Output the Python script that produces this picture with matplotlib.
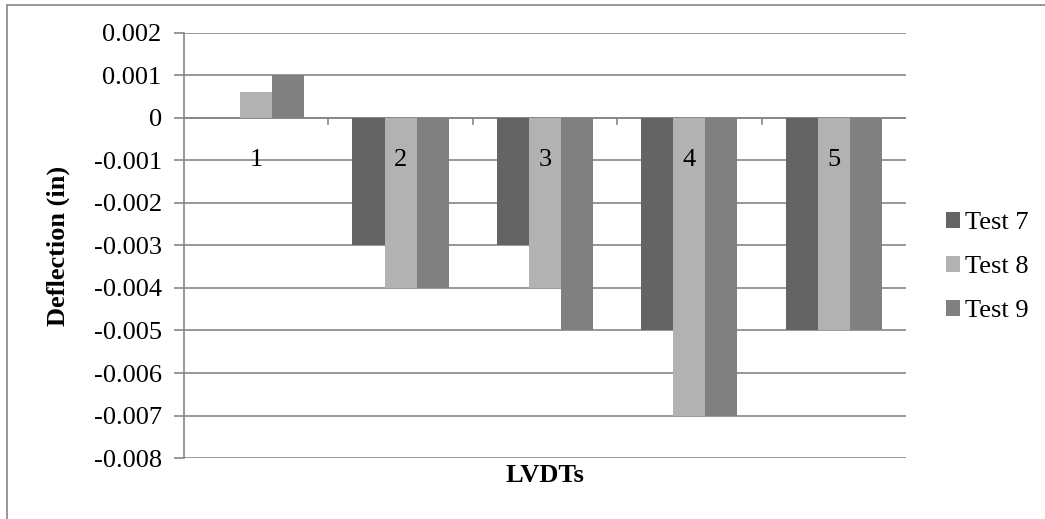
import matplotlib.pyplot as plt
import numpy as np
from matplotlib.patches import Rectangle

plt.rcParams['font.family'] = ['Liberation Serif', 'DejaVu Serif']

lvdts = ["1", "2", "3", "4", "5"]
test7 = [0, -0.003, -0.003, -0.005, -0.005]
test8 = [0.0006, -0.004, -0.004, -0.007, -0.005]
test9 = [0.001, -0.004, -0.005, -0.007, -0.005]
series = ["Test 7", "Test 8", "Test 9"]
colors = ["#646464", "#b2b2b2", "#808080"]
yticks = np.round(np.arange(-0.008, 0.0021, 0.001), 3)

fs = 19
fig = plt.figure(figsize=(10.45, 5.19), dpi=100)
ax = fig.add_axes([0.176, 0.1175, 0.691, 0.819])

# chart area frame (only top and left edges fall inside the image)
fig.patches.append(Rectangle((7 / 1045, -0.1), 1.2, 1 - 5 / 519 + 0.1,
                             transform=fig.transFigure, fill=False,
                             edgecolor="#868686", linewidth=1.2))

x = np.arange(len(lvdts))
w = 0.222
for i, (vals, name, c) in enumerate(zip([test7, test8, test9], series, colors)):
    ax.bar(x + (i - 1) * w, vals, width=w, color=c, label=name, zorder=3)

ax.set_xlim(-0.5, len(lvdts) - 0.5)
ax.set_ylim(-0.008, 0.002)
ax.set_yticks(yticks)
ax.set_yticklabels(["0" if v == 0 else f"{v:.3f}" for v in yticks])
ax.grid(axis="y", color="#868686", linewidth=1.2, zorder=0)
ax.tick_params(axis="y", direction="out", length=7, width=1.2, color="#868686",
               labelsize=fs, pad=9)

# category labels sit just under the zero line
ax.set_xticks([])
for xi, lab in zip(x, lvdts):
    ax.text(xi, -0.001, lab, ha="center", va="center", fontsize=fs, zorder=4)
# small tick marks between categories on the zero line
for b in np.arange(0.5, len(lvdts) - 0.5, 1.0):
    ax.plot([b, b], [0, -0.00014], color="#868686", linewidth=1.2, zorder=2,
            clip_on=False)
ax.axhline(0, color="#868686", linewidth=1.2, zorder=2)

for s in ["top", "right", "bottom"]:
    ax.spines[s].set_visible(False)
ax.spines["left"].set_color("#868686")
ax.spines["left"].set_linewidth(1.2)

ax.set_ylabel("Deflection (in)", fontsize=fs, fontweight="bold", labelpad=17)
ax.set_xlabel("LVDTs", fontsize=fs, fontweight="bold", labelpad=4)

ax.legend(loc="center left", bbox_to_anchor=(1.055, 0.449), frameon=False,
          fontsize=fs, borderpad=0, borderaxespad=0,
          handlelength=0.53, handleheight=0.53, handletextpad=0.2,
          labelspacing=0.83)

fig.savefig("out.png", dpi=100)
